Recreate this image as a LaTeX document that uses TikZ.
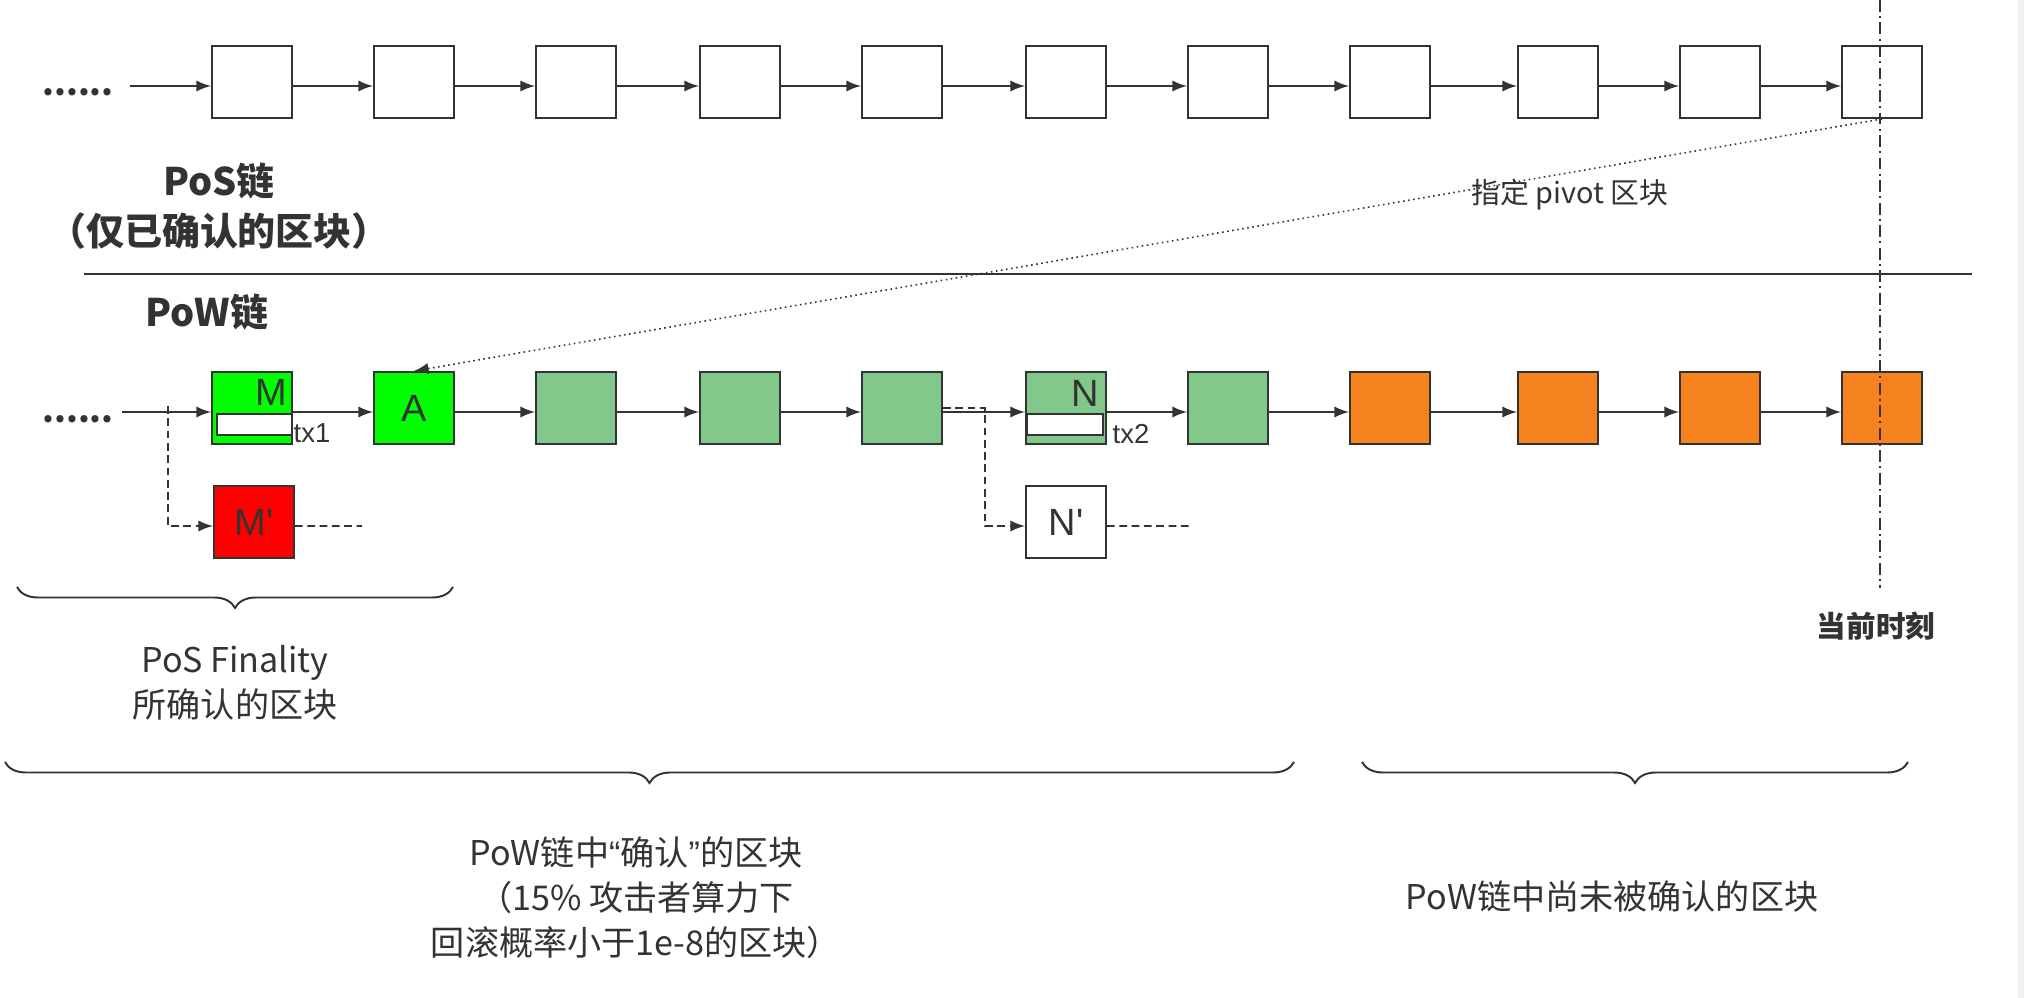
\documentclass[tikz,border=0pt]{standalone}
\usepackage{fontspec}
\setmainfont{Noto Sans CJK SC}
\newfontfamily\boxfont{Liberation Sans}
\usepackage{xcolor}
\usetikzlibrary{arrows}
\usetikzlibrary{decorations.pathreplacing}
\definecolor{myline}{RGB}{51,51,51}
\definecolor{mylime}{RGB}{0,255,0}
\definecolor{mygreen}{RGB}{130,200,138}
\definecolor{myorange}{RGB}{245,130,30}
\definecolor{myred}{RGB}{255,0,0}

\begin{document}
\begin{tikzpicture}[x=0.01cm, y=-0.01cm,
  every node/.style={text=myline},
  blk/.style={draw=myline, line width=0.55pt, minimum width=0.8cm, minimum height=0.72cm, inner sep=0pt},
  txbox/.style={draw=myline, line width=0.55pt, fill=white, minimum width=0.75cm, minimum height=0.21cm, inner sep=0pt},
  lnk/.style={-latex, draw=myline, line width=0.45pt},
  dsh/.style={draw=myline, line width=0.45pt, dash pattern=on 2.2pt off 1.3pt},
  brc/.style={draw=myline, line width=0.55pt, decorate, decoration={brace, amplitude=0.21cm}},
  dts/.style={font=\fontsize{9.6}{10}\selectfont\bfseries, inner sep=0pt},
  big/.style={font=\fontsize{10.8}{14.2}\selectfont\bfseries, align=center},
  lbl/.style={font=\fontsize{9.7}{12.8}\selectfont, align=center},
  ltr/.style={font=\boxfont\fontsize{10.8}{12}\selectfont},
  sml/.style={font=\boxfont\fontsize{7.8}{9}\selectfont, inner sep=0pt}]

\useasboundingbox (0,0) rectangle (2024,998);
\fill[black!5] (2018,0) rectangle (2024,998);

% PoS chain
\node[dts] (d1) at (78,92) {......};
\coordinate (a1) at (130,86);
\foreach \i/\x in {1/252,2/414,3/576,4/740,5/902,6/1066,7/1228,8/1390,9/1558,10/1720,11/1882}
  \node[blk] (s\i) at (\x,82) {};
\draw[lnk] (a1) -- ([yshift=-0.04cm]s1.west);
\foreach \i [count=\j from 2] in {1,...,10}
  \draw[lnk] ([yshift=-0.04cm]s\i.east) -- ([yshift=-0.04cm]s\j.west);

\node[big] (pos) at (219,206) {PoS链\\（仅已确认的区块）};
\draw[myline, line width=0.55pt] (84,274) -- (1972,274);
\node[big] (pow) at (207,312) {PoW链};

% PoW chain
\node[dts] (d2) at (78,419) {......};
\coordinate (a2) at (122,412);
\foreach \i/\x/\col in {1/252/mylime,2/414/mylime,3/576/mygreen,4/740/mygreen,5/902/mygreen,6/1066/mygreen,7/1228/mygreen,8/1390/myorange,9/1558/myorange,10/1720/myorange,11/1882/myorange}
  \node[blk, fill=\col] (w\i) at (\x,408) {};
\draw[lnk] (a2) -- ([yshift=-0.04cm]w1.west);
\foreach \i [count=\j from 2] in {1,...,10}
  \draw[lnk] ([yshift=-0.04cm]w\i.east) -- ([yshift=-0.04cm]w\j.west);

\node[txbox] (r1) at (254.5,424.5) {};
\node[txbox] (r2) at (1065,424.5) {};
\node[ltr] (m) at (271,392) {M};
\node[ltr] (a) at (w2) {A};
\node[ltr] (n) at (1085,393) {N};
\node[sml] (t1) at (312,433) {tx1};
\node[sml] (t2) at (1131,434) {tx2};

% forks
\node[blk, ltr, fill=myred] (mp) at (254,522) {M'};
\node[blk, ltr, fill=white] (np) at (1066,522) {N'};
\coordinate (bm) at (168,406);
\coordinate (bn) at (985,408);
\coordinate (em) at (362,526);
\coordinate (en) at (1192,526);
\draw[dsh, -latex] (bm) |- ([yshift=-0.04cm]mp.west);
\draw[dsh] ([yshift=-0.04cm]mp.east) -- (em);
\draw[dsh, -latex] (w5.east) -- (bn) |- ([yshift=-0.04cm]np.west);
\draw[dsh] ([yshift=-0.04cm]np.east) -- (en);

% pivot, current time
\coordinate (t0) at (1880,0);
\coordinate (t1) at (1880,588);
\draw[myline, line width=0.45pt, dash pattern=on 3.4pt off 1.2pt on 0.6pt off 1.2pt] (t0) -- (t1);
\node[font=\fontsize{8.4}{9}\selectfont\bfseries] (now) at (1876,626) {当前时刻};
\draw[myline, line width=0.45pt, densely dotted, -latex] (s11.south) -- (w2.north);
\node[font=\fontsize{8.2}{9}\selectfont] (piv) at (1570,195) {指定 pivot 区块};

% braces
\coordinate (b1r) at (453,587);
\coordinate (b1l) at (17,587);
\coordinate (b2r) at (1294,762);
\coordinate (b2l) at (5,762);
\coordinate (b3r) at (1908,762);
\coordinate (b3l) at (1362,762);
\draw[brc] (b1r) -- (b1l);
\draw[brc] (b2r) -- (b2l);
\draw[brc] (b3r) -- (b3l);
\node[lbl] (fin) at (235,683) {PoS Finality\\所确认的区块};
\node[lbl] (conf) at (636,898) {PoW链中{\boxfont “}确认{\boxfont ”}的区块\\（15\% 攻击者算力下\\回滚概率小于1e-8的区块）};
\node[lbl] (unconf) at (1612,897) {PoW链中尚未被确认的区块};
\end{tikzpicture}
\end{document}
